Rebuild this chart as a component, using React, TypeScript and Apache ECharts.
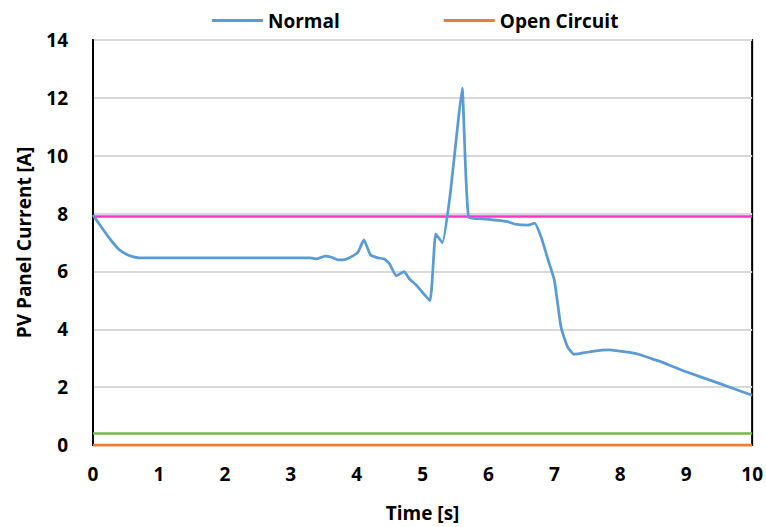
import React, { useEffect, useRef } from "react";
import * as echarts from "echarts";

const normalX = [0, 0.1, 0.2, 0.3, 0.4, 0.5, 0.6, 0.7, 1.5, 2.5, 3.3, 3.39, 3.52, 3.62, 3.72, 3.79, 3.89, 4.02, 4.11, 4.21, 4.32, 4.42, 4.5, 4.6, 4.72, 4.8, 4.9, 5.11, 5.2, 5.3, 5.41, 5.51, 5.6, 5.7, 5.96, 6.29, 6.39, 6.6, 6.7, 6.8, 6.9, 7.0, 7.1, 7.2, 7.3, 7.58, 7.83, 8.14, 8.29, 8.49, 8.59, 9.0, 9.5, 10.0];
const normalY = [7.95, 7.62, 7.3, 7.0, 6.75, 6.6, 6.51, 6.47, 6.47, 6.47, 6.47, 6.43, 6.53, 6.49, 6.4, 6.4, 6.47, 6.67, 7.09, 6.57, 6.47, 6.43, 6.26, 5.85, 5.99, 5.74, 5.54, 4.99, 7.3, 6.99, 8.5, 10.56, 12.34, 7.87, 7.81, 7.72, 7.64, 7.6, 7.67, 7.18, 6.43, 5.69, 4.08, 3.39, 3.14, 3.24, 3.29, 3.2, 3.13, 2.97, 2.9, 2.53, 2.13, 1.72];
const openX = [0, 10];
const openY = [0, 0];
const refPinkY = [7.9, 7.9];
const refGreenY = [0.4, 0.4];
const xTicks = [0, 1, 2, 3, 4, 5, 6, 7, 8, 9, 10];
const yTicks = [0, 2, 4, 6, 8, 10, 12, 14];

const FONT = "Open Sans";

export default function App() {
  const ref = useRef<HTMLDivElement>(null);
  useEffect(() => {
    if (!ref.current) return;
    const chart = echarts.init(ref.current, null, { renderer: "svg" });
    const pair = (xs: number[], ys: number[]) => xs.map((x, i) => [x, ys[i]]);
    const txt = { fontFamily: FONT, fontWeight: "bold", fontSize: 19, color: "#000" };
    chart.setOption({
      animation: false,
      backgroundColor: "#ffffff",
      textStyle: { fontFamily: FONT },
      legend: {
        data: ["Normal", "Open Circuit"],
        top: 6,
        left: 207,
        itemWidth: 51,
        itemHeight: 3,
        itemGap: 104,
        icon: "rect",
        textStyle: txt,
      },
      grid: {
        left: 93,
        right: 13,
        top: 40,
        bottom: 79,
        show: true,
        borderColor: "#000",
        borderWidth: 2,
      },
      xAxis: {
        type: "value",
        min: xTicks[0],
        max: xTicks[xTicks.length - 1],
        interval: 1,
        name: "Time [s]",
        nameLocation: "middle",
        nameGap: 58,
        nameTextStyle: txt,
        axisLine: { show: true, lineStyle: { color: "#000", width: 2 } },
        axisTick: { show: false },
        splitLine: { show: false },
        axisLabel: { ...txt, margin: 19 },
      },
      yAxis: {
        type: "value",
        min: yTicks[0],
        max: yTicks[yTicks.length - 1],
        interval: 2,
        name: "PV Panel Current [A]",
        nameLocation: "middle",
        nameGap: 60,
        nameTextStyle: txt,
        axisLine: { show: true, lineStyle: { color: "#000", width: 2 } },
        axisTick: { show: false },
        splitLine: { show: true, lineStyle: { color: "#d9d9d9", width: 2 } },
        axisLabel: { ...txt, margin: 25 },
      },
      series: [
        {
          name: "Reference",
          type: "line",
          data: pair(openX, refPinkY),
          showSymbol: false,
          symbol: "none",
          lineStyle: { color: "#ff33cc", width: 2.5 },
          itemStyle: { color: "#ff33cc" },
          z: 3,
        },
        {
          name: "Lower",
          type: "line",
          data: pair(openX, refGreenY),
          showSymbol: false,
          symbol: "none",
          lineStyle: { color: "#7ab648", width: 2.5 },
          itemStyle: { color: "#7ab648" },
          z: 3,
        },
        {
          name: "Normal",
          type: "line",
          data: pair(normalX, normalY),
          showSymbol: false,
          symbol: "none",
          smooth: 0.15,
          lineStyle: { color: "#5b9bd5", width: 2.75 },
          itemStyle: { color: "#5b9bd5" },
          z: 4,
        },
        {
          name: "Open Circuit",
          type: "line",
          data: pair(openX, openY),
          showSymbol: false,
          symbol: "none",
          clip: false,
          lineStyle: { color: "#ed7d31", width: 2.75 },
          itemStyle: { color: "#ed7d31" },
          z: 5,
        },
      ],
    });
    return () => chart.dispose();
  }, []);
  return <div ref={ref} style={{ width: 766, height: 527, position: "absolute", left: 0, top: 0 }} />;
}
